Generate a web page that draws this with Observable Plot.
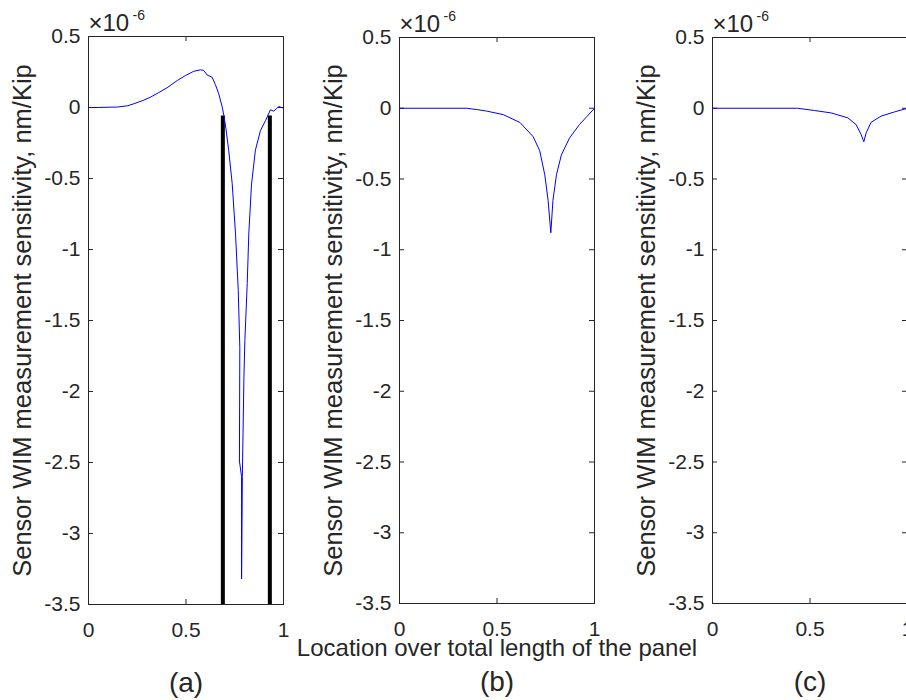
<!DOCTYPE html>
<html><head><meta charset="utf-8">
<script src="https://cdn.jsdelivr.net/npm/d3@7"></script>
<script src="https://cdn.jsdelivr.net/npm/@observablehq/plot@0.6"></script>
<style>
html,body{margin:0;padding:0;background:#fff;overflow:hidden}
#wrap{position:relative;width:906px;height:700px;overflow:hidden;font-family:"Liberation Sans",Arial,sans-serif}
.panel{position:absolute;top:0}
</style></head><body><div id="wrap"></div>
<script>
// ---- data (values in units of 1e-6 nm/Kip) ----
const aX = [0, 0.05, 0.1, 0.147, 0.2, 0.232, 0.28, 0.318, 0.36, 0.403, 0.455, 0.497, 0.54, 0.574, 0.59, 0.609, 0.634, 0.651, 0.668, 0.686, 0.694, 0.705, 0.719, 0.737, 0.754, 0.768, 0.776, 0.774, 0.785, 0.785, 0.789, 0.797, 0.802, 0.814, 0.822, 0.836, 0.856, 0.882, 0.908, 0.933, 0.95, 0.976, 0.993, 1.0];
const aV = [0, 0.0, 0.002, 0.003, 0.012, 0.026, 0.05, 0.073, 0.105, 0.139, 0.19, 0.225, 0.255, 0.265, 0.262, 0.228, 0.213, 0.16, 0.096, 0.002, -0.056, -0.15, -0.303, -0.537, -0.89, -1.29, -1.69, -2.49, -2.6, -3.32, -2.6, -1.9, -1.64, -1.24, -0.89, -0.54, -0.3, -0.162, -0.092, -0.016, -0.026, 0.007, -0.002, 0];
const bX = [0, 0.345, 0.4, 0.447, 0.532, 0.617, 0.685, 0.719, 0.745, 0.762, 0.776, 0.787, 0.805, 0.83, 0.872, 0.923, 0.96, 1.0];
const bV = [0, 0, -0.01, -0.02, -0.045, -0.10, -0.20, -0.30, -0.47, -0.65, -0.88, -0.65, -0.47, -0.33, -0.21, -0.115, -0.06, 0];
const cX = [0, 0.436, 0.523, 0.608, 0.694, 0.736, 0.762, 0.776, 0.788, 0.813, 0.864, 0.933, 1.0];
const cV = [0, 0, -0.016, -0.033, -0.068, -0.115, -0.185, -0.237, -0.174, -0.10, -0.056, -0.026, 0];
const barX = [0.689, 0.930];
const barTop = -0.06, barBottom = -3.5;
const yTicks = [0.5, 0, -0.5, -1, -1.5, -2, -2.5, -3, -3.5];
const xTicks = [0, 0.5, 1];
const yLabel = "Sensor WIM measurement sensitivity, nm/Kip";
const xLabel = "Location over total length of the panel";
const panelLabels = ["(a)", "(b)", "(c)"];
const expBase = "×10", expPow = "-6";

const C = "#262626";
const FONT = "Liberation Sans, Arial, sans-serif";
const wrap = document.getElementById("wrap");

function panel(idx, xs, vs, frameLeft, frameTop, frameBottom, withBars, withXLabel) {
  const W = 310, H = 700, ml = 88, fw = 195;
  const mr = W - ml - fw;
  const mb = H - frameBottom;
  const fh = frameBottom - frameTop;
  const data = xs.map((x, i) => ({x, v: vs[i]}));
  const marks = [
    Plot.frame({stroke: C}),
    Plot.tickY(yTicks, {y: d => d, stroke: C, insetRight: fw - 5}),
    Plot.tickY(yTicks, {y: d => d, stroke: C, insetLeft: fw - 5}),
    Plot.tickX(xTicks, {x: d => d, stroke: C, insetTop: fh - 5}),
    Plot.tickX(xTicks, {x: d => d, stroke: C, insetBottom: fh - 5}),
    Plot.axisY(yTicks, {tickSize: 0, tickPadding: 8, tickFormat: d => String(d), label: null, fill: C, fontSize: 21}),
    Plot.axisX(xTicks, {tickSize: 0, tickPadding: 18, tickFormat: d => String(d), label: null, fill: C, fontSize: 21}),
    Plot.text([yLabel], {frameAnchor: "left", rotate: -90, dx: -66, textAnchor: "middle", lineAnchor: "middle", fontSize: 25.5, fill: C}),
    Plot.text([panelLabels[idx]], {frameAnchor: "bottom", dy: 79, lineAnchor: "middle", fontSize: 28, fill: C}),
    Plot.text([expBase], {frameAnchor: "top-left", dx: 0, dy: -6, textAnchor: "start", lineAnchor: "bottom", fontSize: 24, fill: C}),
    Plot.text([expPow], {frameAnchor: "top-left", dx: 44, dy: -17, textAnchor: "start", lineAnchor: "bottom", fontSize: 14, fill: C})
  ];
  if (withXLabel) marks.push(Plot.text([xLabel], {frameAnchor: "bottom", dy: 45, lineAnchor: "middle", fontSize: 24, fill: C}));
  if (withBars) marks.push(Plot.ruleX(barX, {x: d => d, y1: barTop, y2: barBottom, stroke: "black", strokeWidth: 4}));
  marks.push(Plot.line(data, {x: "x", y: "v", stroke: "#0000ff", strokeWidth: 1}));
  const p = Plot.plot({
    width: W, height: H,
    marginLeft: ml, marginRight: mr, marginTop: frameTop, marginBottom: mb,
    x: {domain: [0, 1], axis: null},
    y: {domain: [-3.5, 0.5], axis: null},
    style: {fontFamily: FONT, fontSize: "21px", background: "transparent", overflow: "visible"},
    marks
  });
  p.classList.add("panel");
  p.style.left = (frameLeft - ml) + "px";
  wrap.appendChild(p);
}

panel(0, aX, aV, 88, 36, 604, true, false);
panel(1, bX, bV, 399, 37, 603, false, true);
panel(2, cX, cV, 712, 37, 603, false, false);
</script>
</body></html>
